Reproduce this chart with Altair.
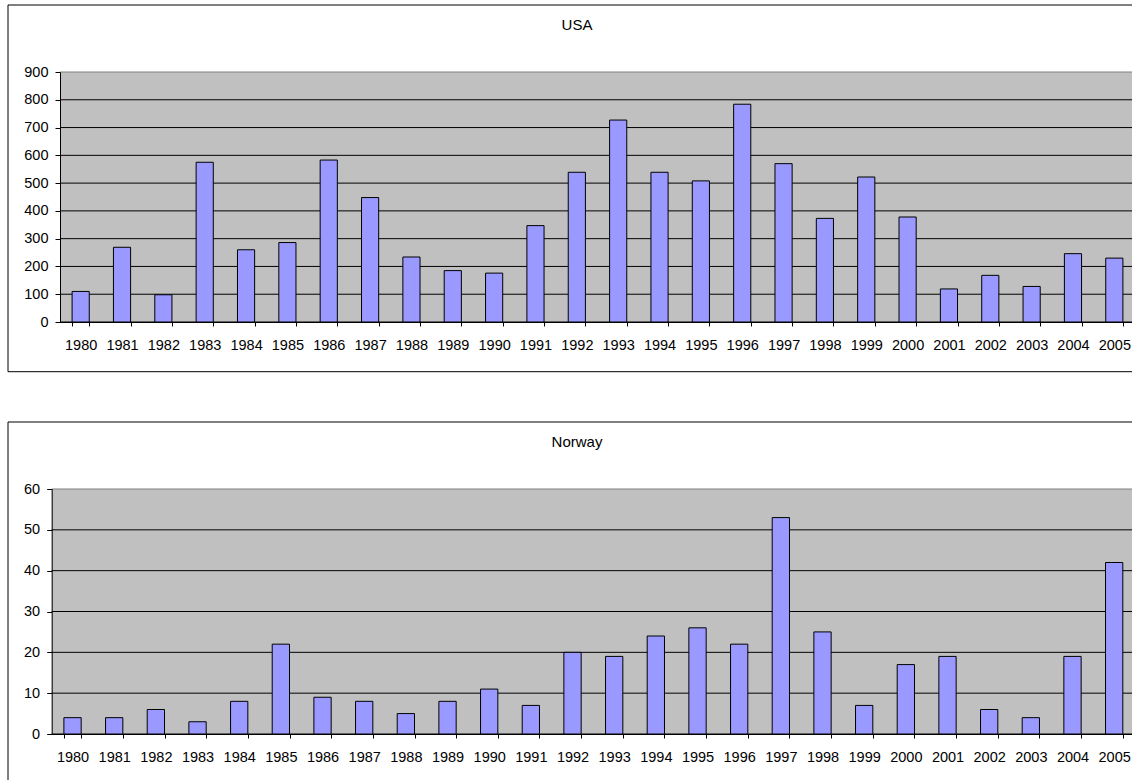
import altair as alt
import pandas as pd

FONT = "Liberation Sans"

years = ["1980", "1981", "1982", "1983", "1984", "1985", "1986", "1987", "1988",
         "1989", "1990", "1991", "1992", "1993", "1994", "1995", "1996", "1997",
         "1998", "1999", "2000", "2001", "2002", "2003", "2004", "2005"]

usa = [110, 269, 98, 575, 260, 286, 583, 448, 234, 185, 176, 347, 539, 727,
       539, 508, 784, 570, 373, 522, 378, 119, 168, 128, 246, 230]

norway = [4, 4, 6, 3, 8, 22, 9, 8, 5, 8, 11, 7, 20, 19, 24, 26, 22, 53, 25,
          7, 17, 19, 6, 4, 19, 42]

usa_ticks = [0, 100, 200, 300, 400, 500, 600, 700, 800, 900]
norway_ticks = [0, 10, 20, 30, 40, 50, 60]

ORIGIN_X = 60  # left edge of the upper plot area


def panel(values, title, ticks, width, height, plot_left):
    ymax = ticks[-1]
    shift = ORIGIN_X - plot_left
    df = pd.DataFrame({"year": years, "value": values})
    yscale = alt.Scale(domain=[0, ymax], nice=False, zero=True)
    yaxis = alt.Axis(values=ticks, grid=False, tickSize=5, tickColor="black",
                     domainColor="black", labelPadding=7, labelFontSize=14.5,
                     labelColor="black", labelFont=FONT, labelBaseline="middle",
                     offset=shift, zindex=1)
    xaxis = alt.Axis(labelAngle=0, tickBand="extent", ticks=True, tickSize=4,
                     tickColor="black", domainColor="black", labelPadding=12,
                     labelFontSize=14.5, labelColor="black", labelFont=FONT,
                     grid=False, zindex=1)
    if shift > 0:
        xscale = alt.Scale(paddingInner=0.585, paddingOuter=0.2925, range=[-shift, width])
    else:
        xscale = alt.Scale(paddingInner=0.585, paddingOuter=0.2925)

    frame = alt.Chart(pd.DataFrame({"f": [0]})).mark_rect(
        fill="white", fillOpacity=0, stroke="black", strokeWidth=1
    ).encode(
        x=alt.value(8 - ORIGIN_X), x2=alt.value(1147 - ORIGIN_X),
        y=alt.value(-67), y2=alt.value(height + 49.7),
    )
    bg = alt.Chart(pd.DataFrame({"f": [0]})).mark_rect(color="#C0C0C0").encode(
        x=alt.value(-shift), x2=alt.value(width), y=alt.value(0), y2=alt.value(height)
    )
    grid = alt.Chart(pd.DataFrame({"value": ticks})).mark_rule(strokeWidth=1).encode(
        y=alt.Y("value:Q", scale=yscale, axis=yaxis, title=None),
        x=alt.value(-shift), x2=alt.value(width),
        color=alt.condition(f"datum.value === {ymax}", alt.value("#808080"), alt.value("black")),
    )
    bars = alt.Chart(df).mark_bar(color="#9999FF", stroke="black", strokeWidth=1).encode(
        x=alt.X("year:N", sort=years, title=None, scale=xscale, axis=xaxis),
        y=alt.Y("value:Q", scale=yscale, axis=yaxis, title=None),
    )
    txt = alt.Chart(pd.DataFrame({"t": [title]})).mark_text(
        fontSize=15, font=FONT, color="black", baseline="middle", align="center"
    ).encode(
        x=alt.value(577 - ORIGIN_X), y=alt.value(-47.5), text="t:N"
    )
    return alt.layer(frame, bg, grid, bars, txt).properties(width=width, height=height)


top = panel(usa, "USA", usa_ticks, 1075, 250, 60)
bottom = panel(norway, "Norway", norway_ticks, 1075, 245, 51.7)

chart = alt.vconcat(alt.hconcat(top), alt.hconcat(bottom), spacing=48).properties(
    autosize=alt.AutoSizeParams(type="none"),
    padding={"left": ORIGIN_X, "top": 72, "right": 1132 - ORIGIN_X, "bottom": 780 - 72},
).configure_view(stroke="transparent")

chart.save("out.html", embed_options={"renderer": "svg", "actions": False})
